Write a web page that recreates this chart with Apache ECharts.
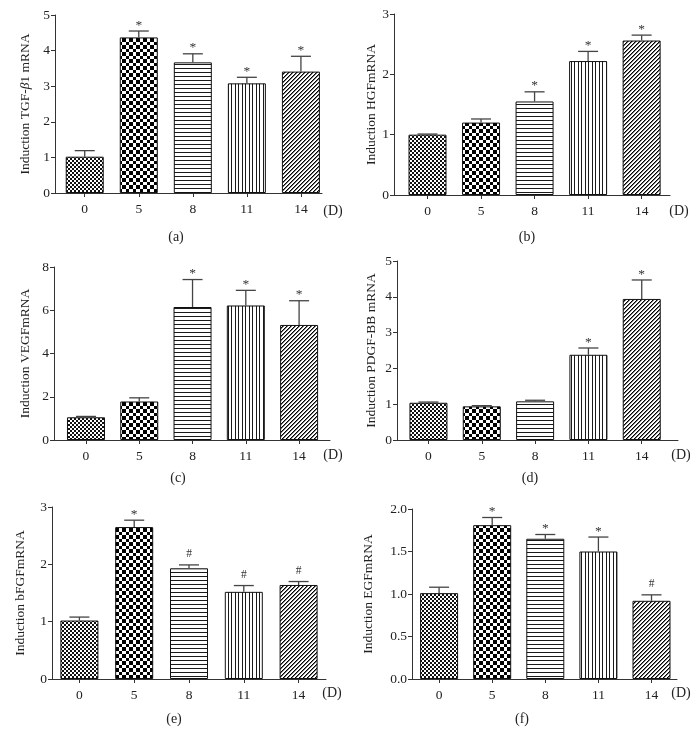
<!DOCTYPE html>
<html><head><meta charset="utf-8">
<script src="https://cdn.jsdelivr.net/npm/echarts@6/dist/echarts.min.js"></script>
<style>html,body{margin:0;padding:0;background:#fff}#c{width:699px;height:746px}</style>
</head><body><div id="c"></div>
<script>
// ---- data ----
const categories = ['0', '5', '8', '11', '14'];
const captions = ['(a)', '(b)', '(c)', '(d)', '(e)', '(f)'];
const yTitles = ['Induction TGF-{i|β}1 mRNA', 'Induction HGFmRNA', 'Induction VEGFmRNA',
                 'Induction PDGF-BB mRNA', 'Induction bFGFmRNA', 'Induction EGFmRNA'];

const tgfValues  = [1.02, 4.37, 3.67, 3.08, 3.41];
const tgfErr     = [0.17, 0.18, 0.24, 0.17, 0.43];
const tgfMarks   = ['', '*', '*', '*', '*'];

const hgfValues  = [1.00, 1.20, 1.55, 2.22, 2.56];
const hgfErr     = [0.01, 0.06, 0.16, 0.16, 0.09];
const hgfMarks   = ['', '', '*', '*', '*'];

const vegfValues = [1.05, 1.78, 6.15, 6.22, 5.32];
const vegfErr    = [0.04, 0.17, 1.27, 0.70, 1.12];
const vegfMarks  = ['', '', '*', '*', '*'];

const pdgfValues = [1.04, 0.94, 1.08, 2.38, 3.94];
const pdgfErr    = [0.02, 0.02, 0.03, 0.19, 0.53];
const pdgfMarks  = ['', '', '', '*', '*'];

const bfgfValues = [1.02, 2.65, 1.93, 1.52, 1.64];
const bfgfErr    = [0.06, 0.12, 0.06, 0.11, 0.06];
const bfgfMarks  = ['', '*', '#', '#', '#'];

const egfValues  = [1.01, 1.81, 1.65, 1.50, 0.92];
const egfErr     = [0.07, 0.09, 0.05, 0.17, 0.07];
const egfMarks   = ['', '*', '*', '*', '#'];

const yMax       = [5, 3, 8, 5, 3, 2];
const yInterval  = [1, 1, 2, 1, 1, 0.5];

// ---- layout / style ----
const FONT = 'Liberation Serif';
const TXT = '#222';
const panels = [
  {values: tgfValues,  err: tgfErr,  marks: tgfMarks,  left: 55,  top: 15,  h: 178, w: 267, xmin: -0.55, xmax: 4.39, cap: [176, 237], d: [333, 211], gap: 23},
  {values: hgfValues,  err: hgfErr,  marks: hgfMarks,  left: 394, top: 14,  h: 181, w: 276, xmin: -0.626, xmax: 4.53, cap: [527, 237], d: [679, 211], gap: 15},
  {values: vegfValues, err: vegfErr, marks: vegfMarks, left: 54,  top: 267, h: 173, w: 276, xmin: -0.6, xmax: 4.58, cap: [178, 478], d: [333, 455], gap: 22},
  {values: pdgfValues, err: pdgfErr, marks: pdgfMarks, left: 397, top: 261, h: 179, w: 281, xmin: -0.59, xmax: 4.68, cap: [530, 478], d: [681, 455], gap: 19},
  {values: bfgfValues, err: bfgfErr, marks: bfgfMarks, left: 52,  top: 507, h: 172, w: 274, xmin: -0.5, xmax: 4.5, cap: [174, 719], d: [332, 693], gap: 25},
  {values: egfValues,  err: egfErr,  marks: egfMarks,  left: 412, top: 509, h: 170, w: 265, xmin: -0.51, xmax: 4.48, cap: [522, 719], d: [681, 693], gap: 37}
];

function makePattern(w, h, fn) {
  const c = document.createElement('canvas');
  c.width = w; c.height = h;
  const ctx = c.getContext('2d');
  ctx.fillStyle = '#fff'; ctx.fillRect(0, 0, w, h);
  for (let x = 0; x < w; x++) for (let y = 0; y < h; y++) {
    const col = fn(x, y);
    if (col) { ctx.fillStyle = col; ctx.fillRect(x, y, 1, 1); }
  }
  return c;
}
const patterns = [
  makePattern(4, 4, (x, y) => ((Math.floor(x / 2) + Math.floor(y / 2)) % 2 === 0 ? '#111' : null)),
  makePattern(7, 7, (x, y) => (((x < 3 ? 0 : 1) + (y < 3 ? 0 : 1)) % 2 === 0 ? '#000' : null)),
  makePattern(4, 4, (x, y) => (y === 0 ? '#1a1a1a' : null)),
  makePattern(7, 4, (x, y) => (x === 0 || x === 4 ? '#1a1a1a' : null)),
  makePattern(4, 4, (x, y) => ((x + y) % 4 === 0 ? '#000' : ((x + y) % 4 === 1 ? '#777' : null)))
];

const option = {
  animation: false,
  backgroundColor: '#fff',
  grid: [], xAxis: [], yAxis: [], series: [], graphic: []
};

panels.forEach((p, i) => {
  option.grid.push({left: p.left, top: p.top, width: p.w, height: p.h, containLabel: false});
  option.xAxis.push({
    type: 'value', gridIndex: i, min: p.xmin, max: p.xmax,
    splitLine: {show: false},
    axisLine: {show: true, onZero: false, lineStyle: {color: '#333', width: 1}},
    axisTick: {show: true, length: 4, lineStyle: {color: '#333'}, customValues: [0, 1, 2, 3, 4]},
    axisLabel: {customValues: [0, 1, 2, 3, 4], formatter: v => categories[Math.round(v)],
                fontFamily: FONT, fontSize: 13.5, color: TXT, margin: 9}
  });
  option.yAxis.push({
    type: 'value', gridIndex: i, min: 0, max: yMax[i], interval: yInterval[i],
    splitLine: {show: false},
    axisLine: {show: true, onZero: false, lineStyle: {color: '#333', width: 1}},
    axisTick: {show: true, length: 4, lineStyle: {color: '#333'}},
    axisLabel: {fontFamily: FONT, fontSize: 13.5, color: TXT, margin: 5,
                formatter: v => (yInterval[i] < 1 ? v.toFixed(1) : String(v))},
    name: yTitles[i], nameLocation: 'middle', nameGap: p.gap,
    nameTextStyle: {fontFamily: FONT, fontSize: 13.5, color: TXT,
                    rich: {i: {fontFamily: FONT, fontSize: 13.5, color: TXT, fontStyle: 'italic'}}}
  });
  option.series.push({
    type: 'bar', xAxisIndex: i, yAxisIndex: i, barWidth: 38, silent: true,
    data: p.values.map((v, j) => ({
      value: [j, v],
      itemStyle: {color: {image: patterns[j], repeat: 'repeat'}, borderColor: '#111', borderWidth: 1}
    }))
  });
  option.series.push({
    type: 'custom', xAxisIndex: i, yAxisIndex: i, silent: true, clip: false, z: 5,
    data: p.values.map((v, j) => [j, v, p.err[j]]),
    renderItem: (params, api) => {
      const j = api.value(0), v = api.value(1), e = api.value(2);
      const b = api.coord([j, v]);
      const t = api.coord([j, v + e]);
      const mark = p.marks[params.dataIndex];
      const children = [
        {type: 'line', shape: {x1: b[0], y1: b[1], x2: t[0], y2: t[1]}, style: {stroke: '#444', lineWidth: 1.3}},
        {type: 'line', shape: {x1: t[0] - 10, y1: t[1], x2: t[0] + 10, y2: t[1]}, style: {stroke: '#444', lineWidth: 1.3}}
      ];
      if (mark) {
        children.push({type: 'text', x: t[0], y: mark === '#' ? t[1] - 5 : t[1] + 1,
          style: {text: mark, fontFamily: FONT, fontSize: mark === '#' ? 11.5 : 13.5, fill: '#333',
                  align: 'center', verticalAlign: 'bottom'}});
      }
      return {type: 'group', children};
    }
  });
  option.graphic.push({type: 'text', x: p.cap[0], y: p.cap[1],
    style: {text: captions[i], fontFamily: FONT, fontSize: 14, fill: TXT, align: 'center', verticalAlign: 'middle'}});
  option.graphic.push({type: 'text', x: p.d[0], y: p.d[1],
    style: {text: '(D)', fontFamily: FONT, fontSize: 14, fill: TXT, align: 'center', verticalAlign: 'middle'}});
});

const chart = echarts.init(document.getElementById('c'), null, {renderer: 'canvas'});
chart.setOption(option);
</script>
</body></html>
